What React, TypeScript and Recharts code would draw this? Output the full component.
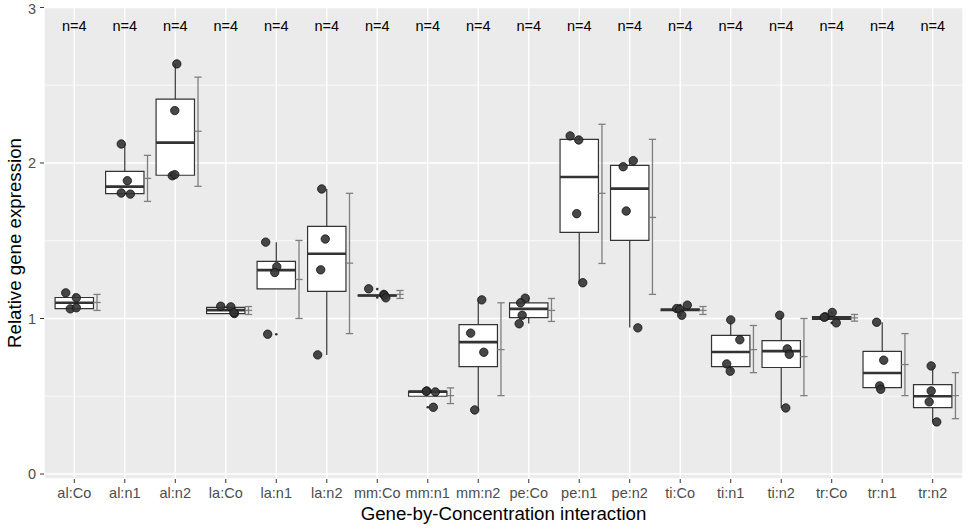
import {
  CartesianGrid,
  ComposedChart,
  ReferenceArea,
  ReferenceLine,
  Scatter,
  XAxis,
  YAxis,
} from "recharts";

const FONT = '"Liberation Sans", Arial, Helvetica, sans-serif';

const categories = [
  "al:Co", "al:n1", "al:n2", "la:Co", "la:n1", "la:n2",
  "mm:Co", "mm:n1", "mm:n2", "pe:Co", "pe:n1", "pe:n2",
  "ti:Co", "ti:n1", "ti:n2", "tr:Co", "tr:n1", "tr:n2",
];

// boxplot stats
const q1 = [1.064, 1.803, 1.921, 1.032, 1.191, 1.174, 1.146, 0.5, 0.691, 1.006, 1.554, 1.502, 1.051, 0.691, 0.685, 0.994, 0.556, 0.427];
const median = [1.101, 1.848, 2.131, 1.054, 1.311, 1.416, 1.148, 0.53, 0.848, 1.062, 1.91, 1.835, 1.056, 0.785, 0.79, 1.004, 0.65, 0.5];
const q3 = [1.135, 1.946, 2.41, 1.071, 1.367, 1.592, 1.151, 0.532, 0.961, 1.101, 2.152, 1.985, 1.061, 0.891, 0.858, 1.013, 0.788, 0.575];
const whiskerLow = [1.062, 1.8, 1.918, 1.03, 1.191, 0.766, 1.146, 0.5, 0.412, 0.968, 1.23, 0.942, 1.051, 0.661, 0.425, 0.994, 0.545, 0.335];
const whiskerHigh = [1.161, 2.122, 2.637, 1.079, 1.491, 1.833, 1.151, 0.534, 1.12, 1.131, 2.174, 2.013, 1.061, 0.991, 1.021, 1.013, 0.976, 0.695];
const outliers = [[], [], [], [], [0.899], [], [1.189, 1.135], [0.429], [], [], [], [], [1.021, 1.086], [], [], [0.972, 1.039], [], []];

// mean with error bar
const meanVals = [1.103, 1.901, 2.204, 1.052, 1.251, 1.356, 1.155, 0.504, 0.8, 1.052, 1.805, 1.65, 1.052, 0.8, 0.755, 1.004, 0.704, 0.504];
const errLow = [1.052, 1.753, 1.85, 1.026, 1.0, 0.903, 1.129, 0.453, 0.504, 0.981, 1.354, 1.155, 1.026, 0.652, 0.504, 0.983, 0.504, 0.356];
const errHigh = [1.155, 2.049, 2.552, 1.077, 1.502, 1.805, 1.18, 0.554, 1.101, 1.129, 2.249, 2.152, 1.077, 0.955, 1.0, 1.026, 0.903, 0.652];

// raw observations and their horizontal jitter (category units)
const pointValues = [
  [1.165, 1.133, 1.062, 1.069],
  [2.122, 1.886, 1.807, 1.8],
  [2.637, 2.337, 1.918, 1.925],
  [1.079, 1.075, 1.032, 1.038],
  [1.491, 1.333, 1.296, 0.899],
  [1.833, 1.511, 1.313, 0.766],
  [1.191, 1.155, 1.15, 1.133],
  [0.534, 0.528, 0.429, 0.532],
  [1.12, 0.906, 0.783, 0.412],
  [1.131, 1.101, 1.021, 0.966],
  [2.174, 2.148, 1.674, 1.23],
  [1.976, 2.015, 1.691, 0.94],
  [1.064, 1.058, 1.021, 1.086],
  [0.991, 0.863, 0.708, 0.661],
  [1.021, 0.805, 0.77, 0.425],
  [1.011, 1.008, 1.039, 0.972],
  [0.976, 0.732, 0.567, 0.545],
  [0.695, 0.534, 0.464, 0.335],
];
const pointJitter = [
  [-0.17, 0.04, -0.08, 0.04],
  [-0.07, 0.05, -0.07, 0.11],
  [0.03, -0.01, -0.06, -0.01],
  [-0.1, 0.1, 0.17, 0.16],
  [-0.21, 0.01, -0.03, -0.17],
  [-0.1, -0.03, -0.12, -0.18],
  [-0.17, 0.13, 0.14, 0.17],
  [-0.02, 0.15, 0.11, -0.03],
  [0.07, -0.15, 0.11, -0.07],
  [-0.07, -0.16, -0.13, -0.19],
  [-0.18, -0.01, -0.05, 0.07],
  [-0.13, 0.07, -0.07, 0.16],
  [-0.07, -0.01, 0.03, 0.14],
  [0, 0.18, -0.08, -0.01],
  [-0.03, 0.12, 0.16, 0.09],
  [-0.13, -0.15, 0.01, 0.09],
  [-0.11, 0.03, -0.05, -0.03],
  [-0.03, -0.03, -0.07, 0.08],
];
const nCounts = [4, 4, 4, 4, 4, 4, 4, 4, 4, 4, 4, 4, 4, 4, 4, 4, 4, 4];
const nLabelY = 2.88;
const yTicks = [0, 1, 2, 3];
const yMinor = [0.5, 1.5, 2.5];

const BOX_HALF = 0.38;
const ERR_SHIFT = 0.45;
const CAP_HALF = 0.072;

const xTicks = categories.map((_, i) => i + 1);
const jitterData = pointValues.flatMap((vals, i) =>
  vals.map((v, j) => ({ x: i + 1 + pointJitter[i][j], y: v }))
);
const outlierData = outliers.flatMap((vals, i) => vals.map((v) => ({ x: i + 1, y: v })));
const nData = nCounts.map((n, i) => ({ x: i + 1, y: nLabelY, label: `n=${n}` }));

const seg = (x1: number, y1: number, x2: number, y2: number) => [
  { x: x1, y: y1 },
  { x: x2, y: y2 },
];

function JitterDot(p: any) {
  return <circle cx={p.cx} cy={p.cy} r={4.2} fill="#333" fillOpacity={0.9} stroke="#111" strokeWidth={0.8} />;
}
function OutlierDot(p: any) {
  return <circle cx={p.cx} cy={p.cy} r={1.3} fill="#333" />;
}
function NLabel(p: any) {
  return (
    <text x={p.cx} y={p.cy} textAnchor="middle" dominantBaseline="central" fontSize={14.5} fill="#000" fontFamily={FONT}>
      {p.payload.label}
    </text>
  );
}
function XTitle() {
  return (
    <text x={503.5} y={520} textAnchor="middle" fontSize={18.7} fill="#000" fontFamily={FONT}>
      Gene-by-Concentration interaction
    </text>
  );
}
function YTitle() {
  return (
    <text x={21} y={243} transform="rotate(-90 21 243)" textAnchor="middle" fontSize={18.7} fill="#000" fontFamily={FONT}>
      Relative gene expression
    </text>
  );
}

export default function App() {
  const tickStyle = { fill: "#4d4d4d", fontSize: 14.5, fontFamily: FONT };
  return (
    <div style={{ position: "absolute", left: 0, top: 0, width: 970, height: 531, background: "#fff" }}>
      <ComposedChart width={970} height={531} margin={{ top: 7, right: 7, bottom: 0, left: 0 }}>
        <CartesianGrid fill="#EBEBEB" stroke="#fff" strokeWidth={1.4} />
        <CartesianGrid horizontalValues={yMinor} vertical={false} stroke="#fff" strokeWidth={0.7} />
        <XAxis
          type="number"
          dataKey="x"
          domain={[0.4, 18.6]}
          ticks={xTicks}
          interval={0}
          allowDataOverflow
          height={52}
          tickSize={4}
          tickMargin={5}
          axisLine={false}
          tickLine={{ stroke: "#333" }}
          tick={tickStyle}
          tickFormatter={(v: number) => categories[v - 1]}
          label={<XTitle />}
        />
        <YAxis
          type="number"
          dataKey="y"
          domain={[-0.032, 3.003]}
          ticks={yTicks}
          allowDataOverflow
          width={44}
          tickSize={4}
          tickMargin={4}
          axisLine={false}
          tickLine={{ stroke: "#333" }}
          tick={tickStyle}
          label={<YTitle />}
        />

        {categories.map((c, i) => (
          <ReferenceLine key={`wl-${c}`} segment={seg(i + 1, whiskerLow[i], i + 1, q1[i])} stroke="#333" strokeWidth={1.2} />
        ))}
        {categories.map((c, i) => (
          <ReferenceLine key={`wh-${c}`} segment={seg(i + 1, q3[i], i + 1, whiskerHigh[i])} stroke="#333" strokeWidth={1.2} />
        ))}
        {categories.map((c, i) => (
          <ReferenceArea
            key={`box-${c}`}
            x1={i + 1 - BOX_HALF}
            x2={i + 1 + BOX_HALF}
            y1={q1[i]}
            y2={q3[i]}
            fill="#fff"
            fillOpacity={1}
            stroke="#333"
            strokeWidth={1.2}
          />
        ))}
        {categories.map((c, i) => (
          <ReferenceLine key={`med-${c}`} segment={seg(i + 1 - BOX_HALF, median[i], i + 1 + BOX_HALF, median[i])} stroke="#333" strokeWidth={2.6} />
        ))}

        {categories.map((c, i) => {
          const xe = i + 1 + ERR_SHIFT;
          return [
            <ReferenceLine key={`ev-${c}`} segment={seg(xe, errLow[i], xe, errHigh[i])} stroke="#7f7f7f" strokeWidth={1.3} />,
            <ReferenceLine key={`et-${c}`} segment={seg(xe - CAP_HALF, errHigh[i], xe + CAP_HALF, errHigh[i])} stroke="#7f7f7f" strokeWidth={1.3} />,
            <ReferenceLine key={`eb-${c}`} segment={seg(xe - CAP_HALF, errLow[i], xe + CAP_HALF, errLow[i])} stroke="#7f7f7f" strokeWidth={1.3} />,
            <ReferenceLine key={`em-${c}`} segment={seg(xe - CAP_HALF, meanVals[i], xe + CAP_HALF, meanVals[i])} stroke="#7f7f7f" strokeWidth={1.3} />,
          ];
        })}

        <Scatter data={outlierData} shape={OutlierDot} isAnimationActive={false} />
        <Scatter data={jitterData} shape={JitterDot} isAnimationActive={false} />
        <Scatter data={nData} shape={NLabel} isAnimationActive={false} />
      </ComposedChart>
    </div>
  );
}
